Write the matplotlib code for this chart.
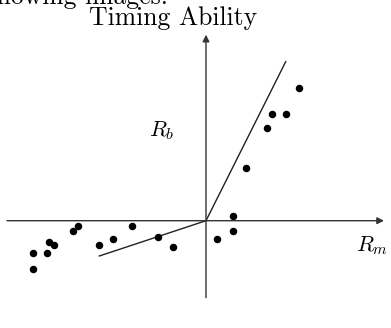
import numpy as np
import matplotlib
matplotlib.use("Agg")
import matplotlib.pyplot as plt

plt.rcParams['mathtext.fontset'] = 'cm'
plt.rcParams['axes.unicode_minus'] = False

# fund returns vs market returns (arbitrary units, origin at the axes crossing)
rm = [-17.27, -17.27, -15.93, -15.67, -15.17, -13.33, -12.77, -10.67, -9.33,
      -7.43, -4.83, -3.27, 1.07, 2.67, 2.67, 3.97, 6.1, 6.6, 7.97, 9.3]
rb = [-3.2, -4.8, -3.2, -2.1, -2.4, -1.0, -0.5, -2.4, -1.8,
      -0.5, -1.6, -2.6, -1.8, 0.5, -1.0, 5.3, 9.3, 10.64, 10.64, 13.3]

# two-slope characteristic line
down_x = [-10.67, 0.0]
down_y = [-3.53, 0.0]
up_x = [0.0, 7.97]
up_y = [0.0, 15.9]

W, H = 391, 328
fig = plt.figure(figsize=(W / 100, H / 100), dpi=100)
ax = fig.add_axes([0, 0, 1, 1])
ax.set_xlim(-20.6, 18.5)
ax.set_ylim(-10.73, 22.07)
ax.axis('off')

# axes with arrow heads
ax.annotate('', xy=(17.8, 0), xytext=(-19.9, 0),
            arrowprops=dict(arrowstyle='-|>', color='#333333', lw=1.0,
                            mutation_scale=10, shrinkA=0, shrinkB=0))
ax.annotate('', xy=(0, 18.6), xytext=(0, -7.7),
            arrowprops=dict(arrowstyle='-|>', color='#333333', lw=1.0,
                            mutation_scale=10, shrinkA=0, shrinkB=0))

ax.plot(down_x, down_y, color='#222222', lw=1.0)
ax.plot(up_x, up_y, color='#222222', lw=1.0)
ax.plot(rm, rb, 'o', color='black', ms=5.4, mec='none')

ax.text(-4.4, 9.0, r'$R_b$', fontsize=16, ha='center', va='center')
ax.text(16.6, -2.5, r'$R_m$', fontsize=16, ha='center', va='center')

fig.text(173.5 / W, 1 - 25 / H, 'Timing Ability', fontfamily='cmr10',
         fontsize=18.5, ha='center', va='baseline')
fig.text(168 / W, 1 - 4 / H, 'following images.', fontfamily='cmr10',
         fontsize=18.5, ha='right', va='baseline')

fig.savefig('out.png', dpi=100)
